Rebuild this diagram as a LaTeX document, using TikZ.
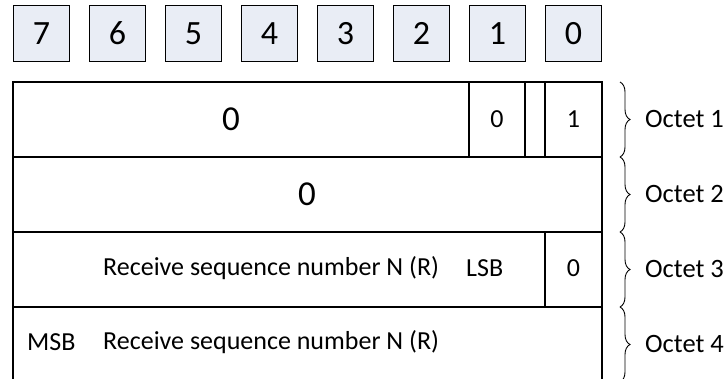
\documentclass[tikz,border=0pt]{standalone}
\usepackage{fontspec}
\setmainfont{Carlito}
\usetikzlibrary{decorations.pathreplacing}
\definecolor{bitfill}{RGB}{233,237,245}
\begin{document}
\begin{tikzpicture}[x=1pt,y=-1pt,
  bitbox/.style={draw, line width=1.3pt, fill=bitfill, minimum width=56pt,
    minimum height=56pt, inner sep=0pt, font=\fontsize{34}{36}\selectfont},
  frame/.style={line width=1.7pt},
  divider/.style={line width=1.3pt},
  field/.style={inner sep=0pt, font=\fontsize{26}{28}\selectfont},
  bigzero/.style={inner sep=0pt, font=\fontsize{35}{37}\selectfont},
  octbrace/.style={decorate, decoration={brace, amplitude=10pt}, line width=0.9pt},
  octlabel/.style={anchor=west, inner sep=0pt, font=\fontsize{26.5}{28}\selectfont}]
\useasboundingbox (0,0) rectangle (726,378);
\clip (0,0) rectangle (726,378);

% bit numbers
\foreach \b [count=\i from 0] in {7,6,5,4,3,2,1,0}
  \node[bitbox] (bit\b) at ({41.5+76*\i},33.5) {\b};

% frame of the four octets (the last one continues below)
\draw[frame] (13,382) -- (13,82) -- (602,82) -- (602,382);
\draw[frame] (13,157) -- (602,157);
\draw[frame] (13,232) -- (602,232);
\draw[frame] (13,307) -- (602,307);

% field dividers
\draw[divider] (469,82) -- (469,157);
\draw[divider] (525,82) -- (525,157);
\draw[divider] (545,82) -- (545,157);
\draw[divider] (545,232) -- (545,307);

% octet 1
\node[bigzero] (o1a) at (231,119) {0};
\node[field] (o1b) at (497,119) {0};
\node[field] (o1c) at (573.5,119) {1};
% octet 2
\node[bigzero] (o2a) at (307,194) {0};
% octet 3
\node[field, anchor=west] (o3a) at (103,268) {Receive sequence number N (R)};
\node[field, anchor=west] (o3b) at (466,268) {LSB};
\node[field] (o3c) at (573.5,268) {0};
% octet 4
\node[field, anchor=west] (o4m) at (27,342) {MSB};
\node[field, anchor=west] (o4a) at (103,342) {Receive sequence number N (R)};

% octet braces and labels
\foreach \t/\u [count=\k] in {82/157,157/232,232/307,307/382}{
  \draw[octbrace] (620,\t) -- (620,\u);
  \node[octlabel] (oct\k) at (645,{(\t+\u)/2-1}) {Octet \k};
}
\end{tikzpicture}
\end{document}
